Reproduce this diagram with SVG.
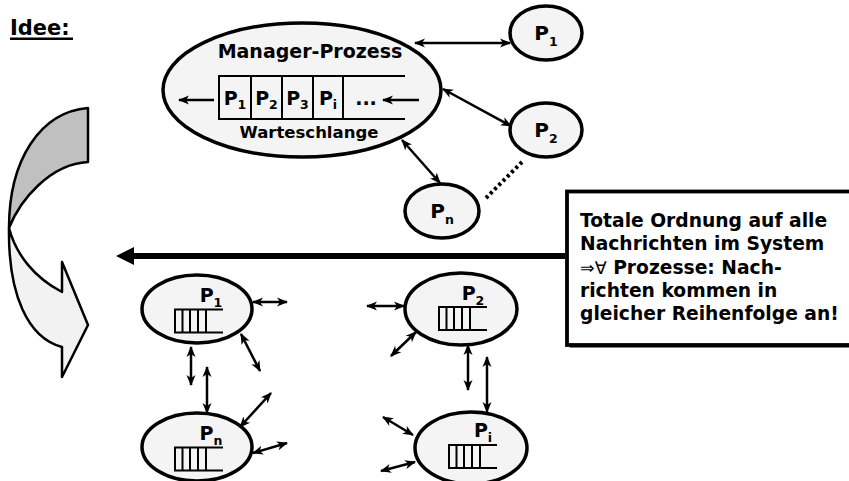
<svg xmlns="http://www.w3.org/2000/svg" width="849" height="481" viewBox="0 0 849 481">
<style>
text{font-family:"DejaVu Sans","Liberation Sans",sans-serif;font-weight:bold;fill:#000}
.node{fill:#f4f4f4;stroke:#000;stroke-width:3.5}
.q{fill:none;stroke:#000;stroke-width:2}
.c{fill:none;stroke:#000;stroke-width:2.5}
.cd{fill:none;stroke:#000;stroke-width:2.5;marker-start:url(#ah);marker-end:url(#ah)}
.cs{fill:none;stroke:#000;stroke-width:2.5;marker-end:url(#ah)}
.lbl{font-size:19px;text-anchor:middle}
.sub{font-size:12.5px}
.box{font-size:18.7px}
</style>
<defs>
<marker id="ah" markerUnits="userSpaceOnUse" markerWidth="12" markerHeight="12" viewBox="0 0 12 12" refX="10" refY="6" orient="auto-start-reverse">
<path d="M0,1.5 L11,6 L0,10.5 L3,6 Z" fill="#000"/>
</marker>
<path id="qi" d="M48,0 H0 V23 H48 M7.5,0 V23 M15,0 V23 M23,0 V23 M31,0 V23" fill="none" stroke="#000" stroke-width="2"/>
</defs>
<rect width="849" height="481" fill="#fff"/>

<g id="title">
<text x="10" y="35" font-size="21">Idee:</text>
<rect x="10" y="37.5" width="63" height="2.5" fill="#000"/>
</g>

<g id="curved-arrow" stroke="#000" stroke-width="2.5" stroke-linejoin="round">
<path d="M88,108 C40,112 9,160 9,228 C20,200 50,164 88,162 Z" fill="#c0c0c0"/>
<path d="M9,228 C8,295 28,338 62,347 L62,377 L88,325 L62,262 L62,292 C35,278 16,255 9,228 Z" fill="#f2f2f2"/>
</g>

<g id="manager">
<ellipse class="node" cx="302" cy="90" rx="139" ry="67"/>
<text x="310" y="58" font-size="19" text-anchor="middle">Manager-Prozess</text>
<path class="q" d="M405,76 H219 V119 H405 M251,76 V119 M282,76 V119 M313,76 V119 M343,76 V119"/>
<text class="lbl" x="235" y="105">P<tspan class="sub" dy="4">1</tspan></text>
<text class="lbl" x="266.5" y="105">P<tspan class="sub" dy="4">2</tspan></text>
<text class="lbl" x="297.5" y="105">P<tspan class="sub" dy="4">3</tspan></text>
<text class="lbl" x="328" y="105">P<tspan class="sub" dy="4">i</tspan></text>
<text class="lbl" x="366" y="105">...</text>
<text x="309" y="138" font-size="16.5" text-anchor="middle">Warteschlange</text>
</g>

<g id="top-p1">
<ellipse class="node" cx="546" cy="33" rx="36" ry="27"/>
<text x="546" y="40" font-size="20" text-anchor="middle">P<tspan class="sub" dy="6">1</tspan></text>
</g>
<g id="top-p2">
<ellipse class="node" cx="546" cy="130" rx="36" ry="27"/>
<text x="546" y="137" font-size="20" text-anchor="middle">P<tspan class="sub" dy="6">2</tspan></text>
</g>
<g id="top-pn">
<ellipse class="node" cx="442" cy="211" rx="37" ry="27"/>
<text x="442" y="218" font-size="20" text-anchor="middle">P<tspan class="sub" dy="6">n</tspan></text>
</g>

<g id="low-p1">
<ellipse class="node" cx="197" cy="309" rx="55" ry="34"/>
<text x="211" y="302" font-size="19" text-anchor="middle">P<tspan class="sub" dy="5">1</tspan></text>
<use href="#qi" x="175" y="309.5"/>
</g>
<g id="low-pn">
<ellipse class="node" cx="197" cy="447" rx="55" ry="34"/>
<text x="211" y="440" font-size="19" text-anchor="middle">P<tspan class="sub" dy="5">n</tspan></text>
<use href="#qi" x="175" y="447.5"/>
</g>
<g id="low-p2">
<ellipse class="node" cx="461" cy="309" rx="56" ry="36"/>
<text x="473" y="300" font-size="19" text-anchor="middle">P<tspan class="sub" dy="5">2</tspan></text>
<use href="#qi" x="439" y="307"/>
</g>
<g id="low-pi">
<ellipse class="node" cx="471" cy="448" rx="56" ry="36"/>
<text x="483" y="437" font-size="19" text-anchor="middle">P<tspan class="sub" dy="5">i</tspan></text>
<use href="#qi" x="449" y="445"/>
</g>

<g id="note">
<rect x="569.5" y="194" width="290" height="153.5" fill="#000"/>
<rect x="567" y="191.5" width="290" height="153.5" fill="#fff" stroke="#000" stroke-width="3.8"/>
<text class="box" x="580" y="227">Totale Ordnung auf alle</text>
<text class="box" x="580" y="250">Nachrichten im System</text>
<text class="box" x="580" y="273.5"><tspan font-weight="normal" font-size="17.5">⇒∀</tspan> Prozesse: Nach-</text>
<text class="box" x="580" y="297">richten kommen in</text>
<text class="box" x="580" y="320">gleicher Reihenfolge an!</text>
</g>

<g id="connectors">
<line class="cs" x1="214" y1="100" x2="179" y2="100"/>
<line class="cs" x1="419" y1="100" x2="383" y2="100"/>
<line class="cd" x1="415" y1="43" x2="510" y2="43"/>
<line class="cd" x1="443" y1="89" x2="511" y2="126"/>
<line class="cd" x1="402" y1="140" x2="440" y2="183"/>
<line x1="522" y1="162" x2="486" y2="198" stroke="#000" stroke-width="4" stroke-dasharray="3,3"/>
<line x1="565" y1="256" x2="132" y2="256" stroke="#000" stroke-width="6"/>
<path d="M116,256 L134,247 L134,265 Z" fill="#000"/>
<line class="cd" x1="253" y1="302" x2="287" y2="302"/>
<line class="cd" x1="241" y1="334" x2="260" y2="371"/>
<line class="cd" x1="191" y1="347" x2="191" y2="385"/>
<line class="cd" x1="207" y1="367" x2="207" y2="413"/>
<line class="cd" x1="240" y1="427" x2="271" y2="393"/>
<line class="cd" x1="253" y1="453" x2="287" y2="443"/>
<line class="cd" x1="367" y1="306" x2="404" y2="306"/>
<line class="cd" x1="391" y1="356" x2="416" y2="332"/>
<line class="cd" x1="468" y1="345" x2="468" y2="390"/>
<line class="cd" x1="487" y1="357" x2="487" y2="412"/>
<line class="cd" x1="383" y1="417" x2="413" y2="435"/>
<line class="cd" x1="381" y1="471" x2="415" y2="462"/>
</g>
</svg>
